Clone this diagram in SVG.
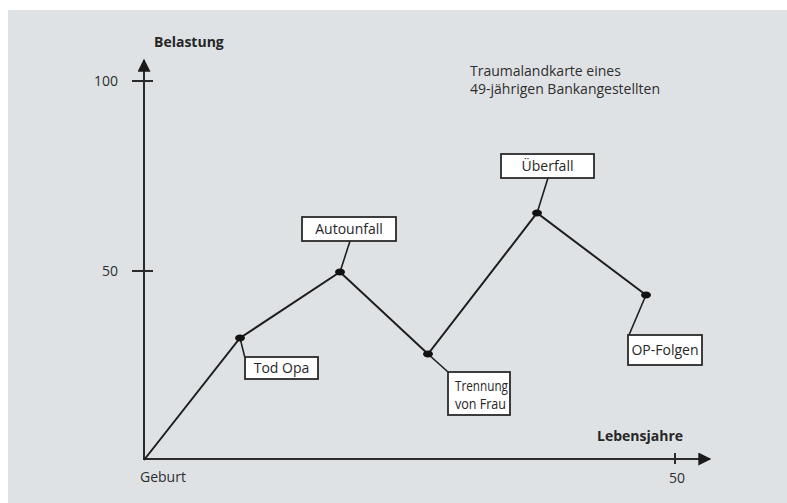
<svg xmlns="http://www.w3.org/2000/svg" width="787" height="503" viewBox="0 0 787 503">
  <defs>
    <style>
      .bg { fill: #dfe2e5; }
      .axis { stroke: #2b2b2b; stroke-width: 2; fill: none; }
      .curve { stroke: #1e1e1e; stroke-width: 2; fill: none; }
      .leader { stroke: #1e1e1e; stroke-width: 1.6; fill: none; }
      .box { fill: #ffffff; stroke: #2a2a2a; stroke-width: 1.8; }
      .dot { fill: #111111; }
      text { font-family: "Open Sans", "Noto Sans", "DejaVu Sans", sans-serif; fill: #2e2e2e; font-size: 14px; }
      .bold { font-weight: bold; fill: #262626; }
      .lbl { fill: #262626; }
    </style>
    <marker id="arrow" viewBox="0 0 10 10" refX="9" refY="5" markerWidth="7" markerHeight="6.5" markerUnits="strokeWidth" orient="auto">
      <path d="M0,0 L10,5 L0,10 Z" fill="#1a1a1a"/>
    </marker>
  </defs>

  <rect x="0" y="0" width="787" height="503" fill="#ffffff"/>
  <rect class="bg" x="8" y="10" width="779" height="493"/>

  <!-- axes -->
  <g id="axes">
    <line class="axis" x1="144" y1="460" x2="144" y2="60" marker-end="url(#arrow)"/>
    <line class="axis" x1="144" y1="459" x2="710" y2="459" marker-end="url(#arrow)"/>
    <line class="axis" x1="132" y1="81" x2="153" y2="81"/>
    <line class="axis" x1="132" y1="271" x2="153" y2="271"/>
    <line class="axis" x1="675" y1="453" x2="675" y2="464"/>
    <text class="bold" x="154" y="47" font-size="13.5">Belastung</text>
    <text class="bold" x="597" y="441" font-size="13.5">Lebensjahre</text>
    <text x="118" y="86" text-anchor="end">100</text>
    <text x="118" y="276" text-anchor="end">50</text>
    <text x="140" y="482">Geburt</text>
    <text x="677" y="483" text-anchor="middle">50</text>
  </g>

  <g id="title">
    <text x="470" y="76">Traumalandkarte eines</text>
    <text x="470" y="94">49-jährigen Bankangestellten</text>
  </g>

  <!-- connectors: load curve and leaders -->
  <g id="connectors">
    <polyline class="curve" points="144,460 240,338 340,272 428,354 537,213 646,295"/>
    <line class="leader" x1="240" y1="338" x2="245" y2="358"/>
    <line class="leader" x1="340" y1="272" x2="350" y2="241"/>
    <line class="leader" x1="428" y1="354" x2="448" y2="372"/>
    <line class="leader" x1="537" y1="213" x2="548" y2="178"/>
    <line class="leader" x1="646" y1="295" x2="629" y2="335"/>
  </g>

  <g id="node-tod-opa">
    <ellipse class="dot" cx="240" cy="338" rx="5" ry="3.5"/>
    <rect class="box" x="245" y="357" width="73" height="22"/>
    <text class="lbl" x="281.5" y="373" text-anchor="middle">Tod Opa</text>
  </g>

  <g id="node-autounfall">
    <ellipse class="dot" cx="340" cy="272" rx="5" ry="3.5"/>
    <rect class="box" x="302" y="217" width="94" height="24"/>
    <text class="lbl" x="349" y="234" text-anchor="middle">Autounfall</text>
  </g>

  <g id="node-trennung">
    <ellipse class="dot" cx="428" cy="354" rx="5" ry="3.5"/>
    <rect class="box" x="448" y="372" width="62" height="43"/>
    <text class="lbl" x="455" y="391" textLength="53" lengthAdjust="spacingAndGlyphs">Trennung</text>
    <text class="lbl" x="455" y="409" textLength="51" lengthAdjust="spacingAndGlyphs">von Frau</text>
  </g>

  <g id="node-ueberfall">
    <ellipse class="dot" cx="537" cy="213" rx="5" ry="3.5"/>
    <rect class="box" x="501" y="154" width="93" height="24"/>
    <text class="lbl" x="547.5" y="171" text-anchor="middle">Überfall</text>
  </g>

  <g id="node-op-folgen">
    <ellipse class="dot" cx="646" cy="295" rx="5" ry="3.5"/>
    <rect class="box" x="628" y="335" width="74" height="30"/>
    <text class="lbl" x="665" y="355" text-anchor="middle">OP-Folgen</text>
  </g>
</svg>
